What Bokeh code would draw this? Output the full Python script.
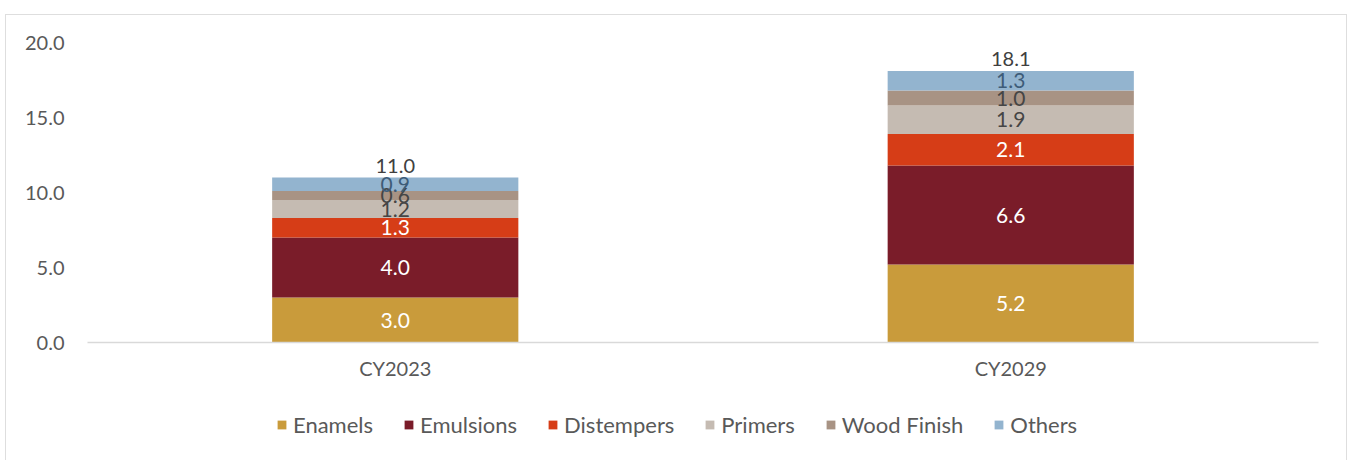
from bokeh.plotting import figure
from bokeh.models import ColumnDataSource, Legend, LegendItem, Range1d, FactorRange
from bokeh.layouts import column
from bokeh.core.properties import value
from bokeh.embed import file_html
from bokeh.resources import INLINE

years = ["CY2023", "CY2029"]
segments = ["Enamels", "Emulsions", "Distempers", "Primers", "Wood Finish", "Others"]
enamels = [3.0, 5.2]
emulsions = [4.0, 6.6]
distempers = [1.3, 2.1]
primers = [1.2, 1.9]
wood_finish = [0.6, 1.0]
others = [0.9, 1.3]
totals = [11.0, 18.1]
y_ticks = [0, 5, 10, 15, 20]

colors = ["#C99B3B", "#7A1C29", "#D63D17", "#C5BBB2", "#A89384", "#93B4CF"]
label_colors = ["#FFFFFF", "#FFFFFF", "#FFFFFF", "#454545", "#454545", "#3E5C78"]
FONT = "Lato"

series = [enamels, emulsions, distempers, primers, wood_finish, others]
data = {"years": years}
for name, vals in zip(segments, series):
    data[name] = vals
source = ColumnDataSource(data)

p = figure(x_range=FactorRange(*years, range_padding=0), y_range=Range1d(0, 20),
           width=1350, height=385, output_backend="svg", toolbar_location=None,
           min_border_left=87, min_border_right=32, min_border_top=42, min_border_bottom=43)
p.border_fill_alpha = 0
p.background_fill_alpha = 0

p.vbar_stack(segments, x="years", width=0.4, color=colors, source=source, line_width=0)

# segment labels
for i, name in enumerate(segments):
    base = [sum(s[j] for s in series[:i]) for j in range(len(years))]
    mids = [b + v / 2 for b, v in zip(base, series[i])]
    texts = ["%.1f" % v for v in series[i]]
    p.text(x=years, y=mids, text=texts, text_align="center", text_baseline="middle",
           text_font=value(FONT), text_font_size="21px", text_color=label_colors[i])

# totals
p.text(x=years, y=totals, text=["%.1f" % t for t in totals], text_align="center",
       text_baseline="bottom", y_offset=-5, text_font=value(FONT), text_font_size="20px",
       text_color="#404040")

p.xgrid.visible = False
p.ygrid.visible = False
p.outline_line_color = None

p.yaxis.ticker = y_ticks
p.yaxis.major_label_overrides = {t: "%.1f" % t for t in y_ticks}
p.yaxis.axis_line_color = None
p.yaxis.major_tick_line_color = None
p.yaxis.minor_tick_line_color = None
p.yaxis.major_label_text_font = FONT
p.yaxis.major_label_text_font_size = "20px"
p.yaxis.major_label_text_color = "#595959"
p.yaxis.major_label_standoff = 17

p.xaxis.axis_line_color = "#D9D9D9"
p.xaxis.axis_line_width = 1.5
p.xaxis.major_tick_line_color = None
p.xaxis.minor_tick_line_color = None
p.xaxis.major_label_text_font = FONT
p.xaxis.major_label_text_font_size = "20px"
p.xaxis.major_label_text_color = "#595959"
p.xaxis.major_label_standoff = 7

# legend strip: a second figure whose (off-screen) bars feed the legend swatches
lf = figure(x_range=p.x_range, y_range=Range1d(100, 101), width=1350, height=75,
            output_backend="svg", toolbar_location=None, x_axis_location=None,
            y_axis_location=None, min_border=0)
lf.border_fill_alpha = 0
lf.background_fill_alpha = 0
lf.xgrid.visible = False
lf.ygrid.visible = False
lf.outline_line_color = None
leg_renderers = lf.vbar_stack(segments, x="years", width=0.4, color=colors, source=source, line_width=0)

legend = Legend(items=[LegendItem(label=n, renderers=[r]) for n, r in zip(segments, leg_renderers)],
                orientation="horizontal", location=(189, 22),
                label_text_font=FONT, label_text_font_size="22px", label_text_color="#595959",
                glyph_width=11, glyph_height=11, spacing=30, label_standoff=6,
                border_line_color=None, background_fill_alpha=0, margin=0, padding=0)
lf.add_layout(legend, "center")

frame_lines = ("linear-gradient(#dedede,#dedede) 5px 14px / 1px 446px no-repeat, "
               "linear-gradient(#dedede,#dedede) 5px 14px / 1342px 1px no-repeat, "
               "linear-gradient(#dedede,#dedede) 1346px 14px / 1px 446px no-repeat, #ffffff")
layout = column(p, lf, spacing=0, styles={"background": frame_lines})
open("out.html", "w").write(file_html(layout, INLINE))
